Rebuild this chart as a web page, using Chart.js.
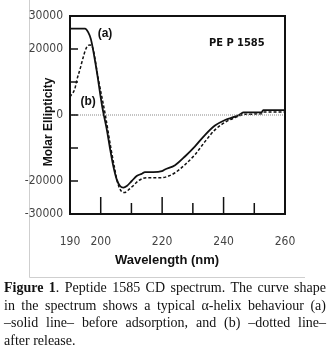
<!DOCTYPE html>
<html>
<head>
<meta charset="utf-8">
<script src="https://cdn.jsdelivr.net/npm/chart.js@4.4.1/dist/chart.umd.min.js"></script>
<style>
  body { margin: 0; background: #fff; }
  #wrap { position: relative; width: 332px; height: 357px; overflow: hidden; }
  #grafico { position: absolute; left: 0; top: 0; }
  #leyenda { position: absolute; left: 4px; top: 279px; width: 322px;
    font-family: "Liberation Serif", "DejaVu Serif", serif; font-size: 14px; line-height: 17.5px; color: #111; }
  #leyenda div { text-align: justify; text-align-last: justify; white-space: nowrap; }
  #leyenda div.ultima { text-align-last: left; }
</style>
</head>
<body>
<div id="wrap">
  <canvas id="grafico" width="332" height="280"></canvas>
  <div id="leyenda">
    <div><b>Figure 1</b>. Peptide 1585 CD spectrum. The curve shape</div>
    <div>in the spectrum shows a typical α-helix behaviour (a)</div>
    <div>–solid line– before adsorption, and (b) –dotted line–</div>
    <div class="ultima">after release.</div>
  </div>
</div>
<script>
// datos
const longitudA = [190, 194.9, 195.9, 196.8, 198.5, 200.5, 201.9, 203.0, 204.1, 205.2, 206.3, 207.4, 208.5, 210.1, 211.7, 213.4, 214.4, 217.1, 219.9, 220.9, 224.2, 227.5, 230.7, 234.0, 237.2, 240.5, 243.7, 245.4, 246.5, 252.4, 252.9, 260];
const elipticidadA = [26200, 26200, 25100, 23000, 14500, 2500, -4000, -10000, -15500, -19500, -21500, -22000, -21500, -20000, -18500, -17800, -17300, -17300, -17000, -16500, -15200, -12500, -9500, -6000, -3200, -1500, -500, 200, 800, 800, 1500, 1500];

const longitudB = [190, 191.6, 192.2, 193.3, 194.3, 195.4, 196.5, 197.3, 199.2, 201.5, 203.3, 204.4, 205.5, 206.8, 207.7, 208.9, 210.5, 212.2, 213.8, 215.4, 219.9, 222.1, 224.2, 227.5, 230.7, 234.0, 237.2, 240.5, 243.7, 245.4, 246.5, 252.4, 253, 260];
const elipticidadB = [5500, 8000, 10500, 14000, 17500, 20500, 21200, 20600, 11000, 0, -10000, -15500, -20500, -23200, -23500, -22800, -21500, -20000, -19200, -19000, -19000, -18500, -17500, -15000, -12000, -8000, -4500, -2200, -800, -200, 200, 400, 900, 900];

const etiquetasX = [190, 200, 220, 240, 260];
const etiquetasY = [30000, 20000, 0, -20000, -30000];
const marcasX = [200, 210, 220, 230, 240, 250];
const marcasXLargas = [200, 220, 240];
const marcasY = [20000, 10000, 0, -10000, -20000];

const fuenteNarrow = '"Liberation Sans Narrow", "DejaVu Sans Condensed", sans-serif';
const fuenteSans = '"Liberation Sans", Arial, sans-serif';

// marco, linea cero, marcas internas y textos
const pluginMarco = {
    id: 'marco',
    beforeDraw(chart) {
        const c = chart.ctx;
        c.save();
        c.strokeStyle = '#cfcfcf';
        c.lineWidth = 1;
        c.beginPath();
        c.moveTo(29.5, 0);
        c.lineTo(29.5, 277.5);
        c.lineTo(305, 277.5);
        c.stroke();
        c.restore();
    },
    afterDatasetsDraw(chart) {
        const c = chart.ctx;
        const a = chart.chartArea;
        const sx = chart.scales.x;
        const sy = chart.scales.y;
        c.save();

        // linea cero punteada
        const y0 = sy.getPixelForValue(0);
        c.strokeStyle = '#888';
        c.lineWidth = 1;
        c.setLineDash([1, 1]);
        c.beginPath();
        c.moveTo(a.left, y0);
        c.lineTo(a.right, y0);
        c.stroke();
        c.setLineDash([]);

        // caja
        c.strokeStyle = '#111';
        c.lineWidth = 2;
        c.strokeRect(a.left, a.top, a.right - a.left, a.bottom - a.top);

        // marcas internas
        c.lineWidth = 1.5;
        marcasY.forEach(v => {
            const y = sy.getPixelForValue(v);
            c.beginPath();
            c.moveTo(a.left, y);
            c.lineTo(a.left + 8, y);
            c.stroke();
        });
        marcasX.forEach(v => {
            const x = sx.getPixelForValue(v);
            const largo = marcasXLargas.includes(v) ? 17 : 11;
            c.beginPath();
            c.moveTo(x, a.bottom);
            c.lineTo(x, a.bottom - largo);
            c.stroke();
        });

        // textos
        c.fillStyle = '#111';
        c.textAlign = 'center';
        c.textBaseline = 'middle';
        c.font = 'bold 12px ' + fuenteSans;
        c.fillText('(a)', sx.getPixelForValue(201.4), sy.getPixelForValue(24500));
        c.fillText('(b)', sx.getPixelForValue(195.9), sy.getPixelForValue(4000));
        c.font = 'bold 11px ' + fuenteNarrow;
        c.fillText('PE P 1585', sx.getPixelForValue(244.3), sy.getPixelForValue(21800));

        c.font = 'bold 13px ' + fuenteSans;
        c.fillText('Wavelength (nm)', a.left + 97, 260);

        c.translate(49, 122);
        c.rotate(-Math.PI / 2);
        c.font = 'bold 12px ' + fuenteSans;
        c.fillText('Molar Ellipticity', 0, 0);
        c.restore();
    }
};

const ctx = document.getElementById('grafico');
new Chart(ctx, {
    type: 'line',
    data: {
        datasets: [
            {
                label: '(a)',
                data: longitudA.map((w, i) => ({ x: w, y: elipticidadA[i] })),
                borderColor: '#111',
                borderWidth: 1.8,
                pointRadius: 0,
                cubicInterpolationMode: 'monotone',
                fill: false
            },
            {
                label: '(b)',
                data: longitudB.map((w, i) => ({ x: w, y: elipticidadB[i] })),
                borderColor: '#111',
                borderWidth: 1.5,
                borderDash: [3, 2],
                pointRadius: 0,
                cubicInterpolationMode: 'monotone',
                fill: false
            }
        ]
    },
    options: {
        responsive: false,
        animation: false,
        layout: { padding: { left: 0, top: 16, right: 47, bottom: 0 } },
        plugins: {
            legend: { display: false },
            tooltip: { enabled: false }
        },
        scales: {
            x: {
                type: 'linear',
                min: 190,
                max: 260,
                afterFit: s => { s.height = 66; },
                grid: { display: false, drawTicks: false },
                border: { display: false },
                ticks: {
                    stepSize: 10,
                    autoSkip: false,
                    maxRotation: 0,
                    padding: 21,
                    color: '#444',
                    font: { family: fuenteNarrow, size: 12 },
                    callback: v => etiquetasX.includes(v) ? String(v) : ''
                }
            },
            y: {
                min: -30000,
                max: 30000,
                afterFit: s => { s.width = 70; },
                grid: { display: false, drawTicks: false },
                border: { display: false },
                ticks: {
                    stepSize: 10000,
                    autoSkip: false,
                    padding: 7,
                    color: '#444',
                    font: { family: fuenteNarrow, size: 12 },
                    callback: v => etiquetasY.includes(v) ? String(v) : ''
                }
            }
        }
    },
    plugins: [pluginMarco]
});
</script>
</body>
</html>
